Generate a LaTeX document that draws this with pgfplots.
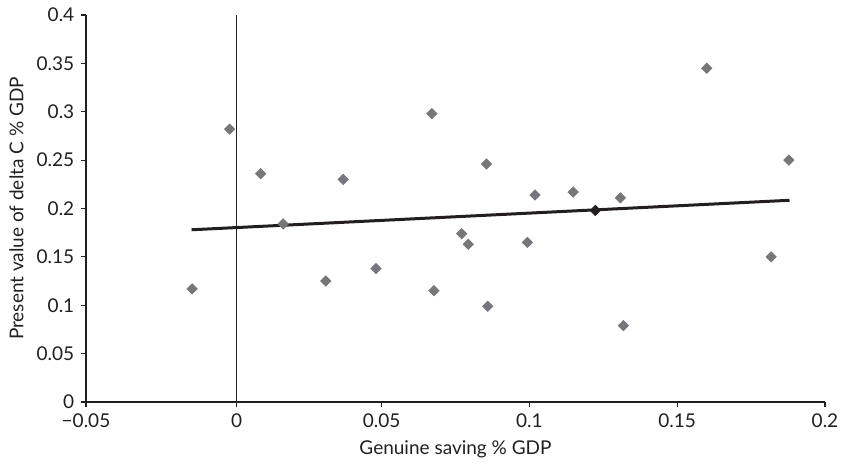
\documentclass[border=0pt]{standalone}
\usepackage{pgfplots}
\pgfplotsset{compat=1.18}
\usepackage{fontspec}
\setmainfont{Lato}
\definecolor{pt}{HTML}{76777A}
\definecolor{ln}{HTML}{231F20}
\begin{document}
\fontsize{9.5}{11}\selectfont
\begin{tikzpicture}
\begin{axis}[
  at={(0,0)}, anchor=south west,
  scale only axis, width=369.5pt, height=193.5pt,
  xmin=-0.05, xmax=0.2, ymin=0, ymax=0.4,
  axis x line*=bottom, axis y line*=left,
  axis line style={ln, line width=0.6pt, -},
  tick style={ln, line width=0.6pt},
  tick align=outside, major tick length=2.5pt,
  xtick={-0.05,0.001,0.05,0.1,0.15,0.2},
  xticklabels={−0.05,0,0.05,0.1,0.15,0.2},
  ytick={0,0.05,0.1,0.15,0.2,0.25,0.3,0.35,0.4},
  yticklabels={0,0.05,0.1,0.15,0.2,0.25,0.3,0.35,0.4},
  ticklabel style={font=\fontsize{9.5}{11}\selectfont, text=ln},
  xlabel={Genuine saving \% GDP},
  ylabel={Present value of delta C \% GDP},
  label style={font=\fontsize{9.5}{11}\selectfont, text=ln},
  clip=false,
]
\draw[ln, line width=0.6pt] (axis cs:0.001,0) -- (axis cs:0.001,0.4);
\addplot[only marks, mark=square*, mark size=1.8pt, mark options={rotate=45, fill=pt, draw=pt}] coordinates {
(-0.0141,0.117) (-0.0014,0.282) (0.0091,0.236) (0.0167,0.184)
(0.0311,0.125) (0.037,0.230) (0.0481,0.138) (0.067,0.298)
(0.0677,0.115) (0.0771,0.174) (0.0793,0.163) (0.0855,0.246)
(0.0859,0.099) (0.0993,0.165) (0.1019,0.214) (0.1148,0.217)
(0.1308,0.211) (0.1318,0.079) (0.160,0.345) (0.1818,0.150)
(0.1878,0.250)
};
\addplot[ln, line width=1.5pt] coordinates {(-0.0143,0.178) (0.188,0.2085)};
\addplot[only marks, mark=square*, mark size=1.8pt, mark options={rotate=45, fill=ln, draw=ln}] coordinates {(0.1223,0.198)};
\end{axis}
\pgfresetboundingbox
\path[use as bounding box] (-43pt,-34pt) rectangle (378pt,201pt);
\end{tikzpicture}
\end{document}
